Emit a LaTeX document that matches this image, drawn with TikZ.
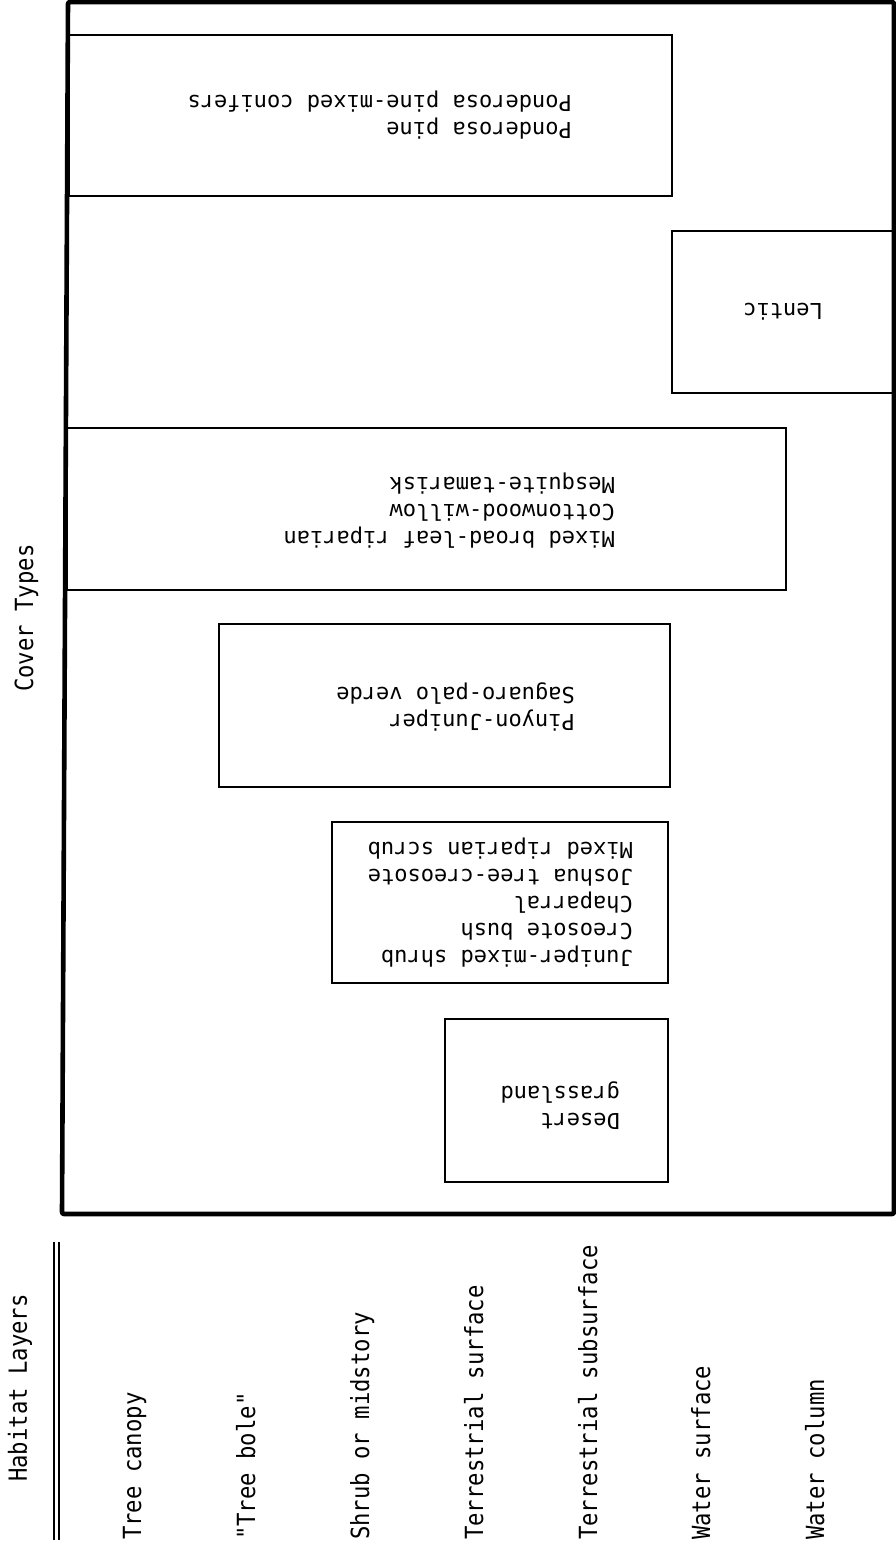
\documentclass[tikz,border=0pt]{standalone}
\usepackage{fontspec}
\newfontfamily\boxfont{DejaVu Sans Mono}
\newfontfamily\labelfont{DejaVu Sans Mono}[FakeStretch=0.89]
\tikzset{
  frame/.style={line width=4.6pt,line join=round,rounded corners=2pt},
  cbox/.style={line width=1.6pt},
  covertext/.style={rotate=180,anchor=west,inner sep=0pt,align=left,
    font=\boxfont\fontsize{22}{27}\selectfont},
  layertext/.style={rotate=90,anchor=base west,inner sep=0pt,
    font=\labelfont\fontsize{25}{30}\selectfont}
}

\begin{document}
\begin{tikzpicture}[x=1pt,y=1pt]
    \useasboundingbox (0,0) rectangle (896,-1550);
    % Frame
    \draw[frame] (68,-2) -- (894,-2) -- (894,-1214) -- (62,-1214) -- cycle;
    \node[layertext] (cover) at (33,-692) {Cover Types};
    % Boxes
    \draw[cbox] (69,-35) rectangle (672,-196);
    \node[covertext] (ponderosa) at (572,-115)
      {Ponderosa pine\\Ponderosa pine-mixed conifers};
    \draw[cbox] (672,-231) rectangle (894,-393);
    \node[covertext] (lentic) at (823,-312) {Lentic};
    \draw[cbox] (67,-428) rectangle (786,-590);
    \node[covertext] (broadleaf) at (615,-511)
      {Mixed broad-leaf riparian\\Cottonwood-willow\\Mesquite-tamarisk};
    \draw[cbox] (219,-624) rectangle (670,-787);
    \node[covertext] (pinyon) at (575,-707)
      {Pinyon-Juniper\\Saguaro-palo verde};
    \draw[cbox] (332,-822) rectangle (668,-983);
    \node[covertext] (juniper) at (633,-903)
      {Juniper-mixed shrub\\Creosote bush\\Chaparral\\Joshua tree-creosote\\Mixed riparian scrub};
    \draw[cbox] (445,-1019) rectangle (668,-1182);
    \node[covertext] (desert) at (620,-1106) {Desert\\grassland};
    % Layers
    \node[layertext] (layers) at (27,-1482) {Habitat Layers};
    \draw[line width=1.5pt] (54,-1242) -- (54,-1540);
    \draw[line width=1.5pt] (59,-1242) -- (59,-1540);
    \node[layertext] (canopy) at (141,-1540) {Tree canopy};
    \node[layertext] (bole) at (255,-1540) {"Tree bole"};
    \node[layertext] (shrub) at (369,-1540) {Shrub or midstory};
    \node[layertext] (tsurf) at (483,-1540) {Terrestrial surface};
    \node[layertext] (tsub) at (597,-1540) {Terrestrial subsurface};
    \node[layertext] (wsurf) at (710,-1540) {Water surface};
    \node[layertext] (wcol) at (824,-1540) {Water column};
\end{tikzpicture}
\end{document}
